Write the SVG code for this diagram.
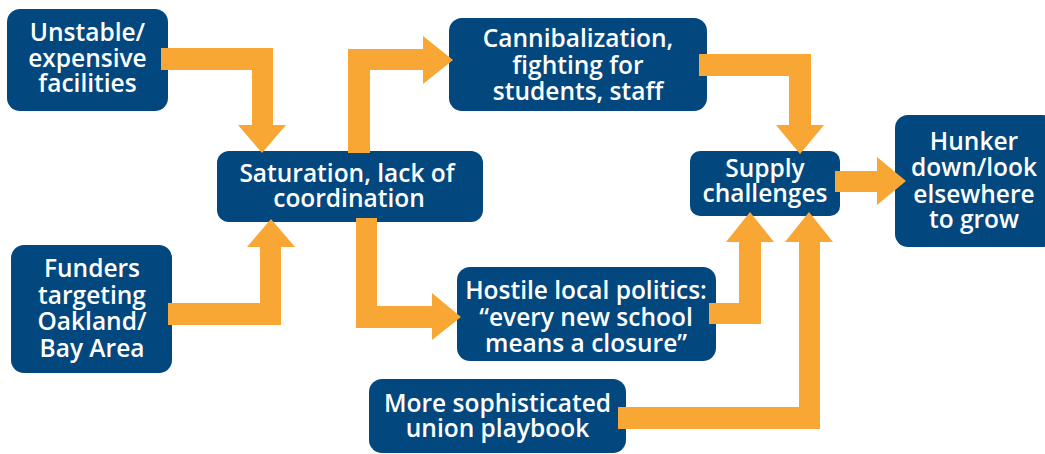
<svg xmlns="http://www.w3.org/2000/svg" width="1045" height="454" viewBox="0 0 1045 454">
<style>
.box{fill:#03477F}
.arr{fill:#F8A634}
.t{font-family:"Open Sans","Liberation Sans",sans-serif;font-size:24.5px;font-weight:600;fill:#FFFFFF;text-anchor:middle}
</style>
<rect width="1045" height="454" fill="#FFFFFF"/>
<g id="n-unstable"><rect class="box" x="7" y="9" width="161" height="102" rx="13"/>
<text class="t"><tspan x="87.5" y="41">Unstable/</tspan><tspan x="87.5" y="66.5">expensive</tspan><tspan x="87.5" y="92">facilities</tspan></text></g>
<g id="n-saturation"><rect class="box" x="217" y="151" width="266" height="71" rx="12"/>
<text class="t"><tspan x="347" y="182">Saturation, lack of</tspan><tspan x="349" y="207">coordination</tspan></text></g>
<g id="n-cannibalization"><rect class="box" x="449" y="18" width="258" height="93" rx="13"/>
<text class="t"><tspan x="578" y="47">Cannibalization,</tspan><tspan x="578" y="73.5">fighting for</tspan><tspan x="578" y="100">students, staff</tspan></text></g>
<g id="n-funders"><rect class="box" x="11" y="245" width="161" height="128" rx="13"/>
<text class="t"><tspan x="92" y="277">Funders</tspan><tspan x="92" y="303.5">targeting</tspan><tspan x="92" y="330">Oakland/</tspan><tspan x="92" y="356.5">Bay Area</tspan></text></g>
<g id="n-hostile"><rect class="box" x="457" y="267" width="259" height="94" rx="13"/>
<text class="t"><tspan x="586" y="299">Hostile local politics:</tspan><tspan x="586" y="325.5">“every new school</tspan><tspan x="586" y="352">means a closure”</tspan></text></g>
<g id="n-union"><rect class="box" x="369" y="379" width="257" height="74" rx="13"/>
<text class="t"><tspan x="497.5" y="412">More sophisticated</tspan><tspan x="497.5" y="437">union playbook</tspan></text></g>
<g id="n-supply"><rect class="box" x="690" y="151" width="150" height="65" rx="10"/>
<text class="t"><tspan x="765" y="177">Supply</tspan><tspan x="765" y="202">challenges</tspan></text></g>
<g id="n-hunker"><rect class="box" x="895" y="115" width="160" height="132" rx="13"/>
<text class="t"><tspan x="974" y="150">Hunker</tspan><tspan x="974" y="176">down/look</tspan><tspan x="974" y="202.5">elsewhere</tspan><tspan x="974" y="228">to grow</tspan></text></g>
<g id="connectors">
<polygon class="arr" points="161,48 273,48 273,125 286,125 262,153 238,125 252,125 252,70 161,70"/>
<polygon class="arr" points="168,325 281,325 281,247 295,247 271,219 247,247 260,247 260,303 168,303"/>
<polygon class="arr" points="348,153 348,49 423,49 423,36 453,60 423,84 423,70 370,70 370,153"/>
<polygon class="arr" points="356,218 377,218 377,306 432,306 432,293 461,317 432,340 432,328 356,328"/>
<polygon class="arr" points="699,54 811,54 811,125 824,125 800,154 776,125 789,125 789,76 699,76"/>
<polygon class="arr" points="835,171 877,171 877,157 906,181 877,205 877,192 835,192"/>
<polygon class="arr" points="709,303 739,303 739,242 726,242 750,212 774,242 761,242 761,324 709,324"/>
<polygon class="arr" points="618,407 799,407 799,242 785,242 809,212 833,242 820,242 820,429 618,429"/>
</g>
</svg>
